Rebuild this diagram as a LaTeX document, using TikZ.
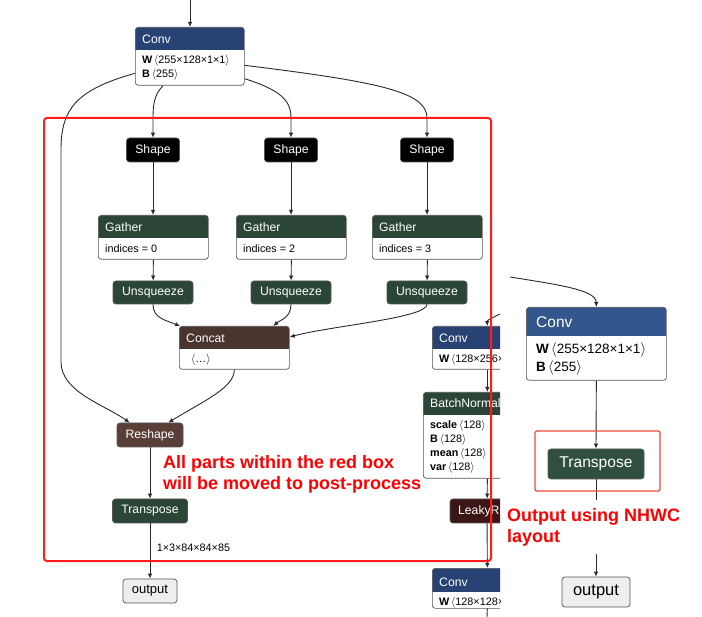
\documentclass[tikz,border=0pt]{standalone}
\usepackage{fontspec}
\setmainfont{Liberation Sans}
\usetikzlibrary{arrows.meta,calc}
\definecolor{convL}{HTML}{284373}
\definecolor{convR}{HTML}{33578D}
\definecolor{grn}{HTML}{2B4636}
\definecolor{grnR}{HTML}{30503F}
\definecolor{concatbr}{HTML}{4A342E}
\definecolor{reshapebr}{HTML}{5A3F39}
\definecolor{leakyred}{HTML}{3B1614}
\definecolor{nodeline}{HTML}{555555}
\definecolor{edgecol}{HTML}{2A2A2A}
\definecolor{outfill}{HTML}{EEEEEE}
\definecolor{redbox}{HTML}{FF1C1C}
\definecolor{redbox2}{HTML}{EE4B3B}
\newcommand{\hdfont}{\fontsize{12.2}{14}\selectfont}
\newcommand{\atfont}{\fontsize{10.8}{13}\selectfont}
\newcommand{\angl}{\ensuremath{\langle}}
\newcommand{\angr}{\ensuremath{\rangle}}
\begin{document}
\begin{tikzpicture}[x=1pt,y=-1pt,>={Latex[length=5pt,width=4.5pt]},
  conn/.style={draw=edgecol,line width=0.9pt,->},
  box/.style 2 args={draw=nodeline,line width=0.7pt,rounded corners=3pt,fill=white,anchor=north west,inner sep=0pt,
    path picture={\fill[#1,sharp corners] (path picture bounding box.north west) rectangle ($(path picture bounding box.north east)+(0,#2)$);}},
  op/.style={draw=nodeline,line width=0.7pt,rounded corners=3pt,fill=#1,text=white,inner sep=0pt,minimum height=24pt,font=\hdfont},
  ttl/.style={anchor=west,text=white,inner sep=0pt,font=\hdfont},
  attr/.style={anchor=west,inner sep=0pt,font=\atfont},
  note/.style={anchor=west,inner sep=0pt,align=left,text=red,font=\bfseries\fontsize{18}{21}\selectfont}]
\useasboundingbox (0,0) rectangle (702,617);
% left graph
\coordinate (in) at (190,0);
\node[box={convL}{23},minimum width=109pt,minimum height=58pt] (conv) at (135,27) {};
\node[ttl] (conv-t) at ($(conv.north west)+(7,12)$) {Conv};
\node[attr] (conv-w) at ($(conv.north west)+(7,34)$) {\textbf{W}\,\angl255×128×1×1\angr};
\node[attr] (conv-b) at ($(conv.north west)+(7,48)$) {\textbf{B}\,\angl255\angr};
\node[op=black,minimum width=53pt] (shape1) at (153,150) {Shape};
\node[op=black,minimum width=53pt] (shape2) at (291,150) {Shape};
\node[op=black,minimum width=53pt] (shape3) at (427,150) {Shape};
\node[box={grn}{23},minimum width=110pt,minimum height=44pt] (gather1) at (98,215) {};
\node[ttl] (gather1-t) at ($(gather1.north west)+(7,12)$) {Gather};
\node[attr] (gather1-a) at ($(gather1.north west)+(7,34)$) {indices = 0};
\node[box={grn}{23},minimum width=110pt,minimum height=44pt] (gather2) at (236,215) {};
\node[ttl] (gather2-t) at ($(gather2.north west)+(7,12)$) {Gather};
\node[attr] (gather2-a) at ($(gather2.north west)+(7,34)$) {indices = 2};
\node[box={grn}{23},minimum width=110pt,minimum height=44pt] (gather3) at (372,215) {};
\node[ttl] (gather3-t) at ($(gather3.north west)+(7,12)$) {Gather};
\node[attr] (gather3-a) at ($(gather3.north west)+(7,34)$) {indices = 3};
\node[op=grn,minimum width=80pt,minimum height=23pt] (unsq1) at (153,292.5) {Unsqueeze};
\node[op=grn,minimum width=80pt,minimum height=23pt] (unsq2) at (291,292.5) {Unsqueeze};
\node[op=grn,minimum width=80pt,minimum height=23pt] (unsq3) at (427,292.5) {Unsqueeze};
\node[box={concatbr}{23},minimum width=110pt,minimum height=43pt] (concat) at (179,326) {};
\node[ttl] (concat-t) at ($(concat.north west)+(7,12)$) {Concat};
\node[attr] (concat-a) at ($(concat.north west)+(12,34)$) {\angl…\angr};
\node[op=reshapebr,minimum width=66pt] (reshape) at (150,435) {Reshape};
\node[op=grn,minimum width=75pt] (transpose) at (150,511) {Transpose};
\node[op=outfill,text=black,minimum width=54pt,font=\fontsize{13}{15}\selectfont] (output) at (150,591) {output};
\draw[conn] (in) -- (conv.north west -| in);
\draw[conn] ($(conv.south west)+(28,0)$) .. controls (154,95) and (153,105) .. (153,118) -- (shape1.north);
\draw[conn] ($(conv.south east)+(0,-7)$) .. controls (280,90) and (291,100) .. (291,118) -- (shape2.north);
\draw[conn] ($(conv.east)+(0,9)$) .. controls (380,82) and (427,92) .. (427,118) -- (shape3.north);
\draw[conn] ($(conv.west)+(0,17)$) .. controls (75,90) and (61,110) .. (61,150) -- (61,362) .. controls (61,392) and (105,405) .. ($(reshape.north west)+(13,0)$);
\draw[conn] (shape1) -- (gather1.north -| shape1);
\draw[conn] (shape2) -- (gather2.north -| shape2);
\draw[conn] (shape3) -- (gather3.north -| shape3);
\draw[conn] (gather1.south) -- (unsq1);
\draw[conn] (gather2.south) -- (unsq2);
\draw[conn] (gather3.south) -- (unsq3);
\draw[conn] (unsq1.south) .. controls (153,318) and (165,320) .. ($(concat.north west)+(1,0)$);
\draw[conn] (unsq2.south) .. controls (291,318) and (280,320) .. ($(concat.north)+(39,0)$);
\draw[conn] (unsq3.south) .. controls (427,318) and (330,326) .. ($(concat.north east)+(0,11)$);
\draw[conn] (concat.south) .. controls (234,388) and (205,400) .. ($(reshape.north east)+(-15,0)$);
\draw[conn] (reshape) -- (transpose);
\draw[conn] (transpose) -- (output) node[pos=0.45,right=3pt,text=black,font=\atfont] (outshape) {1×3×84×84×85};
% clipped column
\begin{scope}
\clip (400,300) rectangle (500,617);
\coordinate (c2in) at (500,314);
\coordinate (c3out) at (487,617);
\node[box={convL}{23},minimum width=110pt,minimum height=43pt] (conv2) at (432,326) {};
\node[ttl] (conv2-t) at ($(conv2.north west)+(7,12)$) {Conv};
\node[attr] (conv2-w) at ($(conv2.north west)+(7,34)$) {\textbf{W}\,\angl128×256×3×3\angr};
\node[box={grn}{23},minimum width=128pt,minimum height=86pt] (bn) at (423,392) {};
\node[ttl] (bn-t) at ($(bn.north west)+(7,11)$) {BatchNormalization};
\node[attr] (bn-s) at ($(bn.north west)+(7,34)$) {\textbf{scale}\,\angl128\angr};
\node[attr] (bn-b) at ($(bn.north west)+(7,48)$) {\textbf{B}\,\angl128\angr};
\node[attr] (bn-m) at ($(bn.north west)+(7,62)$) {\textbf{mean}\,\angl128\angr};
\node[attr] (bn-v) at ($(bn.north west)+(7,76)$) {\textbf{var}\,\angl128\angr};
\node[op=leakyred,minimum width=74pt] (leaky) at (487,511) {LeakyRelu};
\node[box={convL}{24},minimum width=110pt,minimum height=40pt] (conv3) at (432,568) {};
\node[ttl] (conv3-t) at ($(conv3.north west)+(7,14)$) {Conv};
\node[attr] (conv3-w) at ($(conv3.north west)+(7,35)$) {\textbf{W}\,\angl128×128×1×1\angr};
\draw[conn] (c2in) .. controls (492,318) and (487,320) .. (conv2.north);
\draw[conn] (conv2.south) -- (bn.north -| conv2.south);
\draw[conn] (bn.south -| conv2.south) -- (leaky);
\draw[conn] (leaky) -- (conv3.north);
\draw[draw=edgecol,line width=0.9pt] (conv3.south) -- (c3out);
\end{scope}
% red box
\draw[redbox,line width=2pt,rounded corners=3pt] (44,118) rectangle (491,561);
\node[note] (note1) at (163,464) {All parts within the red box};
\node[note] (note2) at (163,485) {will be moved to post-process};
% right graph
\coordinate (rin) at (510,277);
\node[box={convR}{29},minimum width=140pt,minimum height=73pt] (convr) at (526,307) {};
\node[ttl,font=\fontsize{15.5}{18}\selectfont] (convr-t) at ($(convr.north west)+(10,15)$) {Conv};
\node[attr,font=\fontsize{13.5}{16}\selectfont] (convr-w) at ($(convr.north west)+(10,43)$) {\textbf{W}\,\angl255×128×1×1\angr};
\node[attr,font=\fontsize{13.5}{16}\selectfont] (convr-b) at ($(convr.north west)+(10,61)$) {\textbf{B}\,\angl255\angr};
\node[op=grnR,minimum width=96pt,minimum height=30pt,font=\fontsize{15.6}{18}\selectfont] (transr) at (596,464) {Transpose};
\node[op=outfill,text=black,minimum width=68pt,minimum height=30pt,font=\fontsize{16.5}{19}\selectfont] (outr) at (596,592) {output};
\draw[conn] (rin) .. controls (560,285) and (596,290) .. (convr.north);
\draw[conn] (convr.south) -- (transr.north);
\draw[conn] (transr.south) -- (outr.north);
\draw[redbox2,line width=1.3pt,rounded corners=2pt] (535,431) rectangle (660,491);
\node[note,anchor=north west,fill=white,inner xsep=2pt,inner ysep=8pt] (note3) at (505,500) {Output using NHWC\\layout};
\end{tikzpicture}
\end{document}
